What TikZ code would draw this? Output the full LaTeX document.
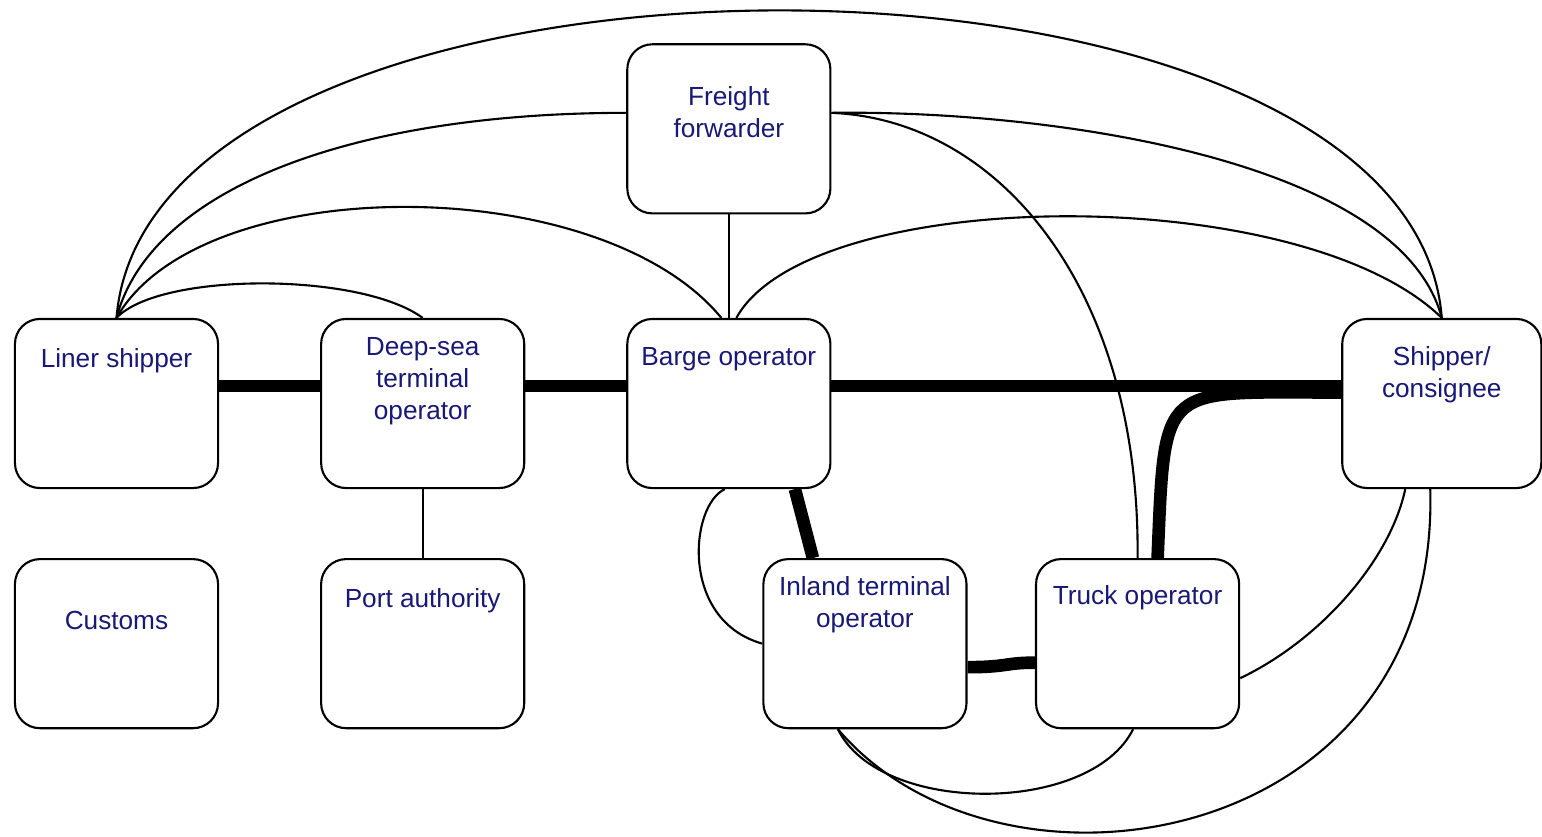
\documentclass[tikz,border=0pt]{standalone}
\usepackage{fontspec}
\setmainfont{Liberation Sans}
\usepackage{xcolor}
\usepackage{tikz}

\definecolor{labelblue}{RGB}{24,24,118}

\begin{document}
\begin{tikzpicture}[x=0.01cm, y=-0.01cm, node distance=3.06cm]
        % Define styles
        \tikzstyle{actor} = [rectangle, draw, fill=white, line width=0.6pt, rounded corners=0.25cm, minimum width=2.03cm, minimum height=1.69cm]
        \tikzstyle{txt} = [align=center, inner sep=0pt, text=labelblue, font=\fontsize{7.45}{9.1}\selectfont]
        \tikzstyle{link} = [line width=0.6pt]
        \tikzstyle{heavylink} = [line width=3.6pt]

        \useasboundingbox (0,0) rectangle (1542,836);

        % Nodes
        \node (liner) [actor] at (116.5,403.5) {};
        \node (deepsea) [actor, right of=liner] {};
        \node (barge) [actor, right of=deepsea] {};
        \node (shipper) [actor, right of=barge, xshift=4.065cm, minimum width=1.99cm] {};
        \node (freight) [actor, above of=barge, yshift=-0.315cm] {};
        \node (customs) [actor, below of=liner, yshift=0.66cm] {};
        \node (port) [actor, below of=deepsea, yshift=0.66cm] {};
        \node (inland) [actor, below of=barge, xshift=1.36cm, yshift=0.66cm] {};
        \node (truck) [actor, right of=inland, xshift=-0.335cm] {};

        % Labels
        \node (linertxt) [txt] at ([yshift=-0.43cm]liner.north) {Liner shipper};
        \node (deepseatxt) [txt] at ([yshift=-0.63cm]deepsea.north) {Deep-sea\\terminal\\operator};
        \node (bargetxt) [txt] at ([yshift=-0.41cm]barge.north) {Barge operator};
        \node (shippertxt) [txt] at ([yshift=-0.57cm]shipper.north) {Shipper/\\consignee};
        \node (freighttxt) [txt] at ([yshift=-0.69cm]freight.north) {Freight\\forwarder};
        \node (customstxt) [txt] at ([yshift=-0.62cm]customs.north) {Customs};
        \node (porttxt) [txt] at ([yshift=-0.43cm]port.north) {Port authority};
        \node (inlandtxt) [txt] at ([yshift=-0.47cm]inland.north) {Inland terminal\\operator};
        \node (trucktxt) [txt] at ([yshift=-0.40cm]truck.north) {Truck operator};

        % Physical flows
        \draw [heavylink] ([yshift=0.175cm]liner.east) -- ([yshift=0.175cm]deepsea.west);
        \draw [heavylink] ([yshift=0.175cm]deepsea.east) -- ([yshift=0.175cm]barge.west);
        \draw [heavylink] ([yshift=0.175cm]barge.east) -- ([yshift=0.175cm]shipper.west);
        \draw [heavylink] ([xshift=0.66cm]barge.south) -- ([xshift=-0.52cm]inland.north);
        \draw [heavylink] ([yshift=-0.235cm]inland.east) .. controls +(40,0) and +(-30,0) .. ([yshift=-0.19cm]truck.west);
        \draw [heavylink] ([xshift=0.2cm]truck.north) .. controls +(7.5,-178) and +(-182,0) .. ([yshift=0.11cm]shipper.west);

        % Information links
        \draw [link] (freight.south) -- (barge.north);
        \draw [link] (deepsea.south) -- (port.north);
        \draw [link] (liner.north) .. controls +(43.5,-46) and +(-62.5,-46) .. (deepsea.north);
        \draw [link] (liner.north) .. controls +(83.5,-148) and +(-121.5,-148) .. ([xshift=-0.075cm]barge.north);
        \draw [link] (liner.north) .. controls +(33.5,-128) and +(-277,0) .. ([yshift=0.16cm]freight.west);
        \draw [link] (liner.north) .. controls +(33.5,-410) and +(-31.5,-410) .. (shipper.north);
        \draw [link] ([yshift=0.16cm]freight.east) .. controls +(219,-3) and +(-41.5,-158) .. (shipper.north);
        \draw [link] ([yshift=0.16cm]freight.east) .. controls +(169,7) and +(2.5,-268) .. (truck.north);
        \draw [link] ([xshift=0.075cm]barge.north) .. controls +(73.5,-133) and +(-141.5,-138) .. (shipper.north);
        \draw [link] ([xshift=-0.04cm]barge.south) .. controls +(-35,16) and +(-83,-23.5) .. (inland.west);
        \draw [link] ([xshift=-0.27cm]inland.south) .. controls +(42,86) and +(-43,86) .. ([xshift=-0.045cm]truck.south);
        \draw [link] ([xshift=-0.27cm]inland.south) .. controls +(162,191) and +(10,361) .. ([xshift=-0.115cm]shipper.south);
        \draw [link] ([yshift=-0.345cm]truck.east) .. controls +(80,-38) and +(-15,71) .. ([xshift=-0.365cm]shipper.south);

\end{tikzpicture}
\end{document}
